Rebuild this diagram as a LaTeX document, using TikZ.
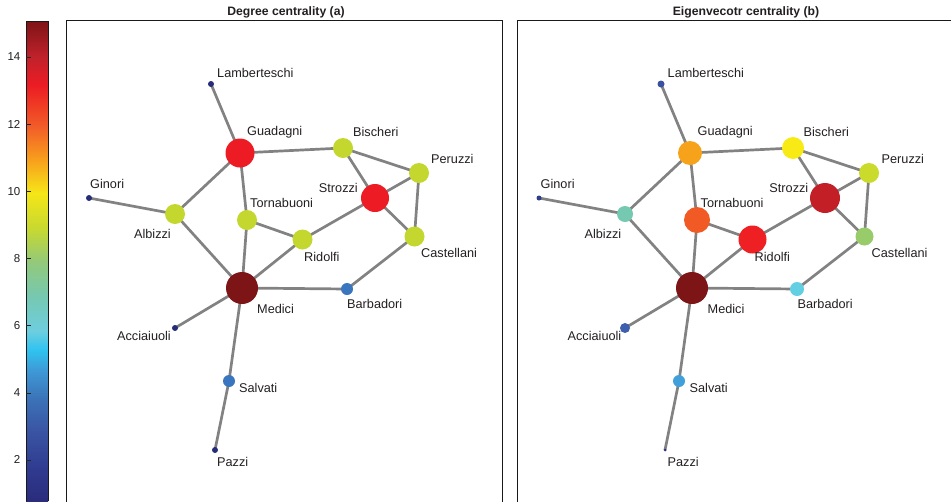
\documentclass[tikz,border=0pt]{standalone}
\usepackage{fontspec}
\setmainfont{Liberation Sans}
\usetikzlibrary{backgrounds}
% degree colours
\definecolor{dHi}{HTML}{7D1416}
\definecolor{dFour}{HTML}{ED1C24}
\definecolor{dThree}{HTML}{C4D72F}
\definecolor{dTwo}{HTML}{3A75BF}
\definecolor{dOne}{HTML}{262C78}
% eigenvector colours
\definecolor{eGua}{HTML}{F7A21B}
\definecolor{eBis}{HTML}{F8EA14}
\definecolor{ePer}{HTML}{CADB2B}
\definecolor{eStr}{HTML}{C21F26}
\definecolor{eAlb}{HTML}{75C9B0}
\definecolor{eTor}{HTML}{F15A24}
\definecolor{eRid}{HTML}{EE2024}
\definecolor{eCas}{HTML}{98CB6A}
\definecolor{eMed}{HTML}{7D1416}
\definecolor{eBar}{HTML}{62CFE3}
\definecolor{eAcc}{HTML}{3E5FAB}
\definecolor{eSal}{HTML}{41A0DA}
\definecolor{eLam}{HTML}{3A50A1}
\definecolor{eGin}{HTML}{2F3D8E}
\definecolor{ePaz}{HTML}{2B2F7F}
\definecolor{linkgray}{HTML}{828282}
\definecolor{txt}{HTML}{231F20}
% colourbar stops
\definecolor{cb00}{HTML}{2A2C7C}
\definecolor{cb01}{HTML}{2F3A8F}
\definecolor{cb02}{HTML}{3A55A4}
\definecolor{cb03}{HTML}{3B72B8}
\definecolor{cb04}{HTML}{3E9AD6}
\definecolor{cb05}{HTML}{2FC3F0}
\definecolor{cb06}{HTML}{6ECEDF}
\definecolor{cb07}{HTML}{76C8B0}
\definecolor{cb08}{HTML}{93C97A}
\definecolor{cb09}{HTML}{C8D92F}
\definecolor{cb10}{HTML}{F5E618}
\definecolor{cb11}{HTML}{F8A01C}
\definecolor{cb12}{HTML}{F15A29}
\definecolor{cb13}{HTML}{EF3B24}
\definecolor{cb14}{HTML}{EC1C24}
\definecolor{cb15}{HTML}{C0222B}
\definecolor{cb16}{HTML}{7D1416}
\pgfdeclareverticalshading{cbarshade}{22pt}{%
color(0pt)=(cb00); color(31pt)=(cb01); color(71pt)=(cb02); color(102pt)=(cb03);
color(131pt)=(cb04); color(151pt)=(cb05); color(170pt)=(cb06); color(205pt)=(cb07);
color(239pt)=(cb08); color(273pt)=(cb09); color(308pt)=(cb10); color(341pt)=(cb11);
color(376pt)=(cb12); color(396pt)=(cb13); color(416pt)=(cb14); color(444pt)=(cb15);
color(480pt)=(cb16)}
\begin{document}
\begin{tikzpicture}[x=1pt,y=-1pt,
  vtx/.style={circle,inner sep=0pt,outer sep=0pt,draw=none},
  lbl/.style={font=\fontsize{12.7}{14}\selectfont,inner sep=0pt,text height=9pt,text depth=0pt,text=txt},
  ttl/.style={font=\fontsize{12.2}{14}\selectfont\bfseries,inner sep=0pt,text=txt},
  ticklbl/.style={font=\fontsize{11.5}{13}\selectfont,inner sep=0pt,anchor=east,text=txt},
  link/.style={draw=linkgray,line width=2.7pt},
  frame/.style={draw=black!90,line width=0.9pt}]
\useasboundingbox (0,0) rectangle (951,501);
\clip (0,0) rectangle (951,501);

% colour bar
\node[inner sep=0pt,outer sep=0pt,anchor=south west] (cbar) at (26,501) {\pgfuseshading{cbarshade}};
\draw[frame] (cbar.south west) -- (cbar.north west) -- (cbar.north east) -- (cbar.south east);
\foreach \v in {2,4,...,14}{
  \coordinate (tk\v) at (26,{57+(14-\v)*33.58});
  \draw[black!85,line width=0.6pt] (tk\v) -- ++(5,0);
  \node[ticklbl] at (20.5,{57+(14-\v)*33.58}) {\v};
}

% panel frames and titles
\draw[frame] (66,520) -- (66,20.5) -- (502,20.5) -- (502,520);
\draw[frame] (517,520) -- (517,20.5) -- (970,20.5);
\node[ttl] (ta) at (286,12) {Degree centrality (a)};
\node[ttl] (tb) at (746,12) {Eigenvecotr centrality (b)};

% vertices: name / x / y / radius a / colour a / radius b / colour b
\foreach \n/\x/\y/\ra/\ca/\rb/\cb in {
  Lamberteschi/211/84/3/dOne/3.5/eLam,
  Guadagni/240/153/14.5/dFour/12/eGua,
  Bischeri/343/148/10/dThree/11/eBis,
  Peruzzi/419/173/10/dThree/10/ePer,
  Strozzi/375/198/14/dFour/15/eStr,
  Ginori/89/198/3/dOne/2.5/eGin,
  Albizzi/175/214/10/dThree/8/eAlb,
  Tornabuoni/247/220/10/dThree/13/eTor,
  Ridolfi/302.5/239.5/10/dThree/14/eRid,
  Castellani/414.5/236.5/10/dThree/9/eCas,
  Medici/242/288/16/dHi/16/eMed,
  Barbadori/347/289/6/dTwo/7/eBar,
  Acciaiuoli/175/328/3/dOne/5/eAcc,
  Salvati/229/381/6/dTwo/6/eSal,
  Pazzi/215/450/3/dOne/1.5/ePaz}{
  \node[vtx,minimum size=2*\ra,fill=\ca] (a-\n) at (\x,\y) {};
  \node[vtx,minimum size=2*\rb,fill=\cb] (b-\n) at (\x+450,\y) {};
}

% labels
\foreach \n/\an/\lx/\ly in {
  Lamberteschi/west/217/73,
  Guadagni/west/247/131,
  Bischeri/west/353/132,
  Peruzzi/west/431/159,
  Strozzi/east/358/188,
  Ginori/west/90/184,
  Tornabuoni/west/250/203,
  Albizzi/east/171/234,
  Ridolfi/west/304/257,
  Castellani/west/421/253,
  Medici/west/257/309,
  Barbadori/west/347/304,
  Acciaiuoli/east/171/336,
  Salvati/west/239/388,
  Pazzi/west/217/462}{
  \node[lbl,anchor=\an] (la-\n) at (\lx,\ly) {\n};
  \node[lbl,anchor=\an] (lb-\n) at (\lx+450.5,\ly) {\n};
}

% edges
\begin{scope}[on background layer]
\foreach \u/\w in {
  Lamberteschi/Guadagni, Guadagni/Bischeri, Guadagni/Albizzi, Guadagni/Tornabuoni,
  Bischeri/Peruzzi, Bischeri/Strozzi, Peruzzi/Strozzi, Peruzzi/Castellani,
  Strozzi/Castellani, Strozzi/Ridolfi, Ginori/Albizzi, Albizzi/Medici,
  Tornabuoni/Ridolfi, Tornabuoni/Medici, Ridolfi/Medici, Castellani/Barbadori,
  Medici/Barbadori, Medici/Acciaiuoli, Medici/Salvati, Salvati/Pazzi}{
  \draw[link] (a-\u.center) -- (a-\w.center);
  \draw[link] (b-\u.center) -- (b-\w.center);
}
\end{scope}
\end{tikzpicture}
\end{document}
